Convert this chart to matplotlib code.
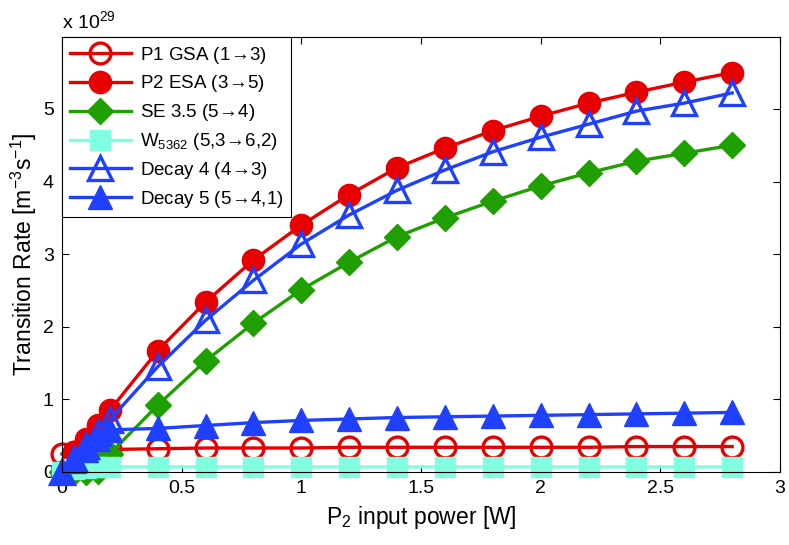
import matplotlib
matplotlib.use("Agg")
import matplotlib.pyplot as plt
from matplotlib.ticker import FormatStrFormatter

plt.rcParams['font.family'] = ['Liberation Sans', 'DejaVu Sans']
plt.rcParams['mathtext.fontset'] = 'custom'
plt.rcParams['mathtext.rm'] = 'Liberation Sans'
plt.rcParams['mathtext.it'] = 'Liberation Sans:italic'

# P2 input power [W]
power = [0, 0.05, 0.1, 0.15, 0.2, 0.4, 0.6, 0.8, 1.0, 1.2, 1.4, 1.6,
         1.8, 2.0, 2.2, 2.4, 2.6, 2.8]

# transition rates in units of 1e29 m^-3 s^-1
p1_gsa = [0.25, 0.28, 0.30, 0.31, 0.31, 0.32, 0.33, 0.33, 0.33, 0.34,
          0.34, 0.34, 0.34, 0.34, 0.34, 0.35, 0.35, 0.35]
p2_esa = [0, 0.25, 0.45, 0.65, 0.85, 1.67, 2.34, 2.92, 3.40, 3.82,
          4.19, 4.46, 4.70, 4.90, 5.08, 5.23, 5.37, 5.50]
se_35 = [0, 0, 0, 0.01, 0.25, 0.92, 1.53, 2.05, 2.51, 2.89,
         3.24, 3.50, 3.73, 3.94, 4.12, 4.28, 4.39, 4.50]
w5362 = [0, 0.04, 0.06, 0.07, 0.07, 0.07, 0.07, 0.07, 0.07, 0.07,
         0.07, 0.07, 0.07, 0.07, 0.07, 0.07, 0.07, 0.07]
decay4 = [0, 0.18, 0.36, 0.54, 0.72, 1.45, 2.09, 2.64, 3.14, 3.54,
          3.88, 4.16, 4.41, 4.61, 4.79, 4.97, 5.08, 5.22]
decay5 = [0, 0.15, 0.30, 0.45, 0.58, 0.60, 0.64, 0.68, 0.71, 0.73,
          0.75, 0.76, 0.77, 0.78, 0.79, 0.80, 0.81, 0.82]

arr = r'$\!{\rightarrow}\!$'
labels = ['P1 GSA (1' + arr + '3)', 'P2 ESA (3' + arr + '5)',
          'SE 3.5 (5' + arr + '4)', 'W$_{5362}$ (5,3' + arr + '6,2)',
          'Decay 4 (4' + arr + '3)', 'Decay 5 (5' + arr + '4,1)']

red = '#e60000'
green = '#20a000'
aqua = '#7fffdf'
blue = '#2040ff'

fig = plt.figure(figsize=(7.89, 5.45), dpi=100)
ax = fig.add_axes([0.0786, 0.134, 0.910, 0.798])

lw = 2.4
ax.plot(power, p1_gsa, '-o', color=red, lw=lw, ms=15, mew=2.4,
        mfc='none', mec=red, clip_on=False, label=labels[0])
ax.plot(power, p2_esa, '-o', color=red, lw=lw, ms=16, mfc=red, mec=red,
        clip_on=False, label=labels[1])
ax.plot(power, se_35, '-D', color=green, lw=lw, ms=13, mfc=green,
        mec=green, clip_on=False, label=labels[2])
ax.plot(power, w5362, '-s', color=aqua, lw=lw, ms=14, mfc=aqua, mec=aqua,
        clip_on=False, label=labels[3])
ax.plot(power, decay4, '-^', color=blue, lw=lw, ms=17, mew=2.4,
        mfc='none', mec=blue, clip_on=False, label=labels[4])
ax.plot(power, decay5, '-^', color=blue, lw=lw, ms=17, mfc=blue, mec=blue,
        clip_on=False, label=labels[5])

ax.set_xlim(0, 3)
ax.set_ylim(0, 5.99)
ax.set_xticks([0, 0.5, 1, 1.5, 2, 2.5, 3])
ax.set_yticks([0, 1, 2, 3, 4, 5])
ax.xaxis.set_major_formatter(FormatStrFormatter('%g'))
ax.yaxis.set_major_formatter(FormatStrFormatter('%g'))
ax.tick_params(direction='in', length=5, width=0.8, top=True, right=True,
               labelsize=14, pad=6)
for sp in ax.spines.values():
    sp.set_linewidth(0.8)

ax.text(0, 1.012, r'x 10$^{29}$', transform=ax.transAxes, fontsize=14,
        ha='left', va='bottom')

ax.set_xlabel('P$_2$ input power [W]', fontsize=16.5, labelpad=5)
ax.set_ylabel('Transition Rate [m$^{-3}$s$^{-1}$]', fontsize=16.5,
              labelpad=3)

leg = ax.legend(loc='upper left', borderaxespad=0, fontsize=13.5,
                handlelength=3.3, handletextpad=0.45, labelspacing=0.42,
                borderpad=0.4, fancybox=False, framealpha=1,
                edgecolor='black', numpoints=1)
leg.get_frame().set_linewidth(0.8)
leg.set_zorder(10)

fig.savefig('out.png', dpi=100)
